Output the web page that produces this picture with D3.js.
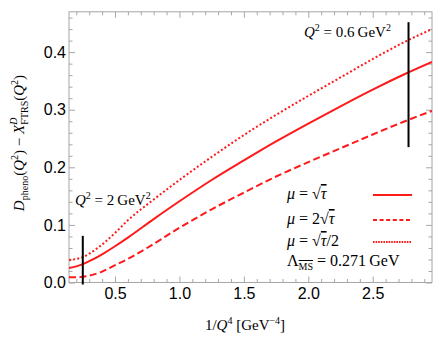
<!DOCTYPE html>
<html>
<head>
<meta charset="utf-8">
<script src="https://cdn.jsdelivr.net/npm/d3@7"></script>
<style>
  body { margin: 0; background: #fff; }
  svg { display: block; }
  .tick text { font-family: 'Liberation Sans', Arial, sans-serif; font-size: 16px; fill: #000; }
  .math { font-family: 'Liberation Serif', 'DejaVu Serif', serif; font-size: 15px; fill: #000; }
</style>
</head>
<body>
<svg id="chart" width="442" height="346"></svg>
<script>
// 1/Q^4 values
const xs = [0.143, 0.2, 0.25, 0.3, 0.4, 0.5, 0.6, 0.8, 1.0, 1.25, 1.5, 1.75, 2.0, 2.25, 2.5, 2.75, 2.96];
// mu = sqrt(tau)
const solidVals = [0.025, 0.028, 0.032, 0.037, 0.049, 0.063, 0.078, 0.110, 0.141, 0.178, 0.212, 0.245, 0.276, 0.306, 0.335, 0.362, 0.383];
// mu = 2 sqrt(tau)
const dashedVals = [0.009, 0.009, 0.010, 0.012, 0.019, 0.030, 0.041, 0.067, 0.095, 0.127, 0.156, 0.184, 0.209, 0.233, 0.257, 0.280, 0.298];
// mu = sqrt(tau)/2
const dottedVals = [0.039, 0.041, 0.044, 0.050, 0.066, 0.086, 0.108, 0.144, 0.178, 0.218, 0.256, 0.291, 0.324, 0.356, 0.388, 0.418, 0.440];

const xTicks = [0.5, 1.0, 1.5, 2.0, 2.5];
const yTicks = [0.0, 0.1, 0.2, 0.3, 0.4];

// vertical markers: Q^2 = 2 and Q^2 = 0.6
const markers = [
  {x: 1 / 4, y0: 0, y1: 0.081},
  {x: 1 / 0.36, y0: 0.2385, y1: 0.452}
];

const svg = d3.select('#chart');
const pLeft = 69, pRight = 432, pTop = 11.8, pBottom = 282.5;

const x = d3.scaleLinear().domain([0.143, 2.96]).range([pLeft, pRight]);
const y = d3.scaleLinear().domain([0, 0.47]).range([pBottom, pTop]);

const frameColor = '#a6a6a6';
const red = '#ff1a1a';

// minor ticks
const xMinor = d3.range(2, 30).filter(d => d % 5 !== 0).map(d => d / 10);
const yMinor = d3.range(1, 24).filter(d => d % 5 !== 0).map(d => d / 50);

function styleAxis(g){
  g.select('.domain').remove();
  g.selectAll('.tick line').attr('stroke', frameColor).attr('stroke-width', 1);
}

// bottom
svg.append('g').attr('transform', `translate(0,${pBottom})`)
  .call(d3.axisBottom(x).tickValues(xTicks).tickSizeInner(-6).tickSizeOuter(0).tickPadding(5).tickFormat(d3.format('.1f')))
  .call(styleAxis);
svg.append('g').attr('transform', `translate(0,${pBottom})`)
  .call(d3.axisBottom(x).tickValues(xMinor).tickSizeInner(-3.5).tickSizeOuter(0).tickFormat(''))
  .call(styleAxis);
// top
svg.append('g').attr('transform', `translate(0,${pTop})`)
  .call(d3.axisTop(x).tickValues(xTicks).tickSizeInner(-6).tickSizeOuter(0).tickFormat(''))
  .call(styleAxis);
svg.append('g').attr('transform', `translate(0,${pTop})`)
  .call(d3.axisTop(x).tickValues(xMinor).tickSizeInner(-3.5).tickSizeOuter(0).tickFormat(''))
  .call(styleAxis);
// left
svg.append('g').attr('transform', `translate(${pLeft},0)`)
  .call(d3.axisLeft(y).tickValues(yTicks).tickSizeInner(-6).tickSizeOuter(0).tickPadding(3).tickFormat(d3.format('.1f')))
  .call(styleAxis);
svg.append('g').attr('transform', `translate(${pLeft},0)`)
  .call(d3.axisLeft(y).tickValues(yMinor).tickSizeInner(-3.5).tickSizeOuter(0).tickFormat(''))
  .call(styleAxis);
// right
svg.append('g').attr('transform', `translate(${pRight},0)`)
  .call(d3.axisRight(y).tickValues(yTicks).tickSizeInner(-6).tickSizeOuter(0).tickFormat(''))
  .call(styleAxis);
svg.append('g').attr('transform', `translate(${pRight},0)`)
  .call(d3.axisRight(y).tickValues(yMinor).tickSizeInner(-3.5).tickSizeOuter(0).tickFormat(''))
  .call(styleAxis);

svg.append('rect')
  .attr('x', pLeft).attr('y', pTop)
  .attr('width', pRight - pLeft).attr('height', pBottom - pTop)
  .attr('fill', 'none').attr('stroke', frameColor).attr('stroke-width', 1);

// curves
svg.append('clipPath').attr('id', 'plotclip')
  .append('rect').attr('x', pLeft).attr('y', pTop).attr('width', pRight - pLeft).attr('height', pBottom - pTop);

const line = d3.line().x(d => x(d[0])).y(d => y(d[1])).curve(d3.curveMonotoneX);

const series = [
  {vals: dottedVals, dash: '2,2.2'},
  {vals: dashedVals, dash: '7,3.5'},
  {vals: solidVals, dash: null}
];

series.forEach(function(s){
  svg.append('path')
    .datum(xs.map((v, i) => [v, s.vals[i]]))
    .attr('clip-path', 'url(#plotclip)')
    .attr('d', line)
    .attr('fill', 'none')
    .attr('stroke', red)
    .attr('stroke-width', 2)
    .attr('stroke-dasharray', s.dash);
});

// vertical markers
markers.forEach(function(m){
  svg.append('line')
    .attr('x1', x(m.x)).attr('x2', x(m.x))
    .attr('y1', y(m.y0) + 2).attr('y2', y(m.y1))
    .attr('stroke', '#000').attr('stroke-width', 2);
});

// annotations
function qLabel(px, py, val){
  const t = svg.append('text').attr('class', 'math').attr('x', px).attr('y', py);
  t.append('tspan').attr('font-style', 'italic').text('Q');
  t.append('tspan').attr('font-size', '10px').attr('dy', -6).text('2');
  t.append('tspan').attr('dy', 6).text(' = ' + val + '\u2009GeV');
  t.append('tspan').attr('font-size', '10px').attr('dy', -6).text('2');
}
qLabel(75, 205, '2');
qLabel(304, 37, '0.6');

// legend
const legend = [
  {dash: null, y: 195, parts: [['μ', 'italic'], [' = √', null], ['τ', 'italic', true]]},
  {dash: '4,2.6', y: 220, parts: [['μ', 'italic'], [' = 2√', null], ['τ', 'italic', true]]},
  {dash: '1.6,1', y: 242, parts: [['μ', 'italic'], [' = √', null], ['τ', 'italic', true], ['/2', null]]}
];

legend.forEach(function(item){
  const t = svg.append('text').attr('class', 'math').attr('x', 287).attr('y', item.y + 4)
    .style('font-size', '16px');
  item.parts.forEach(function(p){
    const sp = t.append('tspan').text(p[0]);
    if(p[1]) sp.attr('font-style', p[1]);
    if(p[2]) sp.style('text-decoration', 'overline');
  });
  svg.append('line')
    .attr('x1', 373).attr('x2', 412)
    .attr('y1', item.y).attr('y2', item.y)
    .attr('stroke', red).attr('stroke-width', 2)
    .attr('stroke-dasharray', item.dash);
});

const lam = svg.append('text').attr('class', 'math').attr('x', 287).attr('y', 266)
  .style('font-size', '16px');
lam.append('tspan').text('Λ');
lam.append('tspan').attr('font-size', '10px').attr('dy', 4).style('text-decoration', 'overline').text('MS');
lam.append('tspan').attr('dy', -4).text(' = 0.271\u2009GeV');

// axis titles
const xt = svg.append('text').attr('class', 'math').attr('x', 245).attr('y', 330).attr('text-anchor', 'middle');
xt.append('tspan').text('1/');
xt.append('tspan').attr('font-style', 'italic').text('Q');
xt.append('tspan').attr('font-size', '10px').attr('dy', -6).text('4');
xt.append('tspan').attr('dy', 6).text(' [GeV');
xt.append('tspan').attr('font-size', '10px').attr('dy', -6).text('−4');
xt.append('tspan').attr('dy', 6).text(']');

const yt = svg.append('text').attr('class', 'math')
  .attr('transform', 'translate(24,143) rotate(-90)')
  .attr('text-anchor', 'middle')
  .style('font-size', '15px');
yt.append('tspan').attr('font-style', 'italic').text('D');
yt.append('tspan').attr('font-size', '10px').attr('dy', 4).text('pheno');
yt.append('tspan').attr('dy', -4).text('(');
yt.append('tspan').attr('font-style', 'italic').text('Q');
yt.append('tspan').attr('font-size', '10px').attr('dy', -6).text('2');
yt.append('tspan').attr('dy', 6).text(') − ');
yt.append('tspan').attr('font-style', 'italic').text('X');
yt.append('tspan').attr('font-size', '10px').attr('font-style', 'italic').attr('dy', -7).text('D');
yt.append('tspan').attr('font-size', '10px').attr('dx', -7).attr('dy', 11).text('FTRS');
yt.append('tspan').attr('dy', -4).text('(');
yt.append('tspan').attr('font-style', 'italic').text('Q');
yt.append('tspan').attr('font-size', '10px').attr('dy', -6).text('2');
yt.append('tspan').attr('dy', 6).text(')');
</script>
</body>
</html>
